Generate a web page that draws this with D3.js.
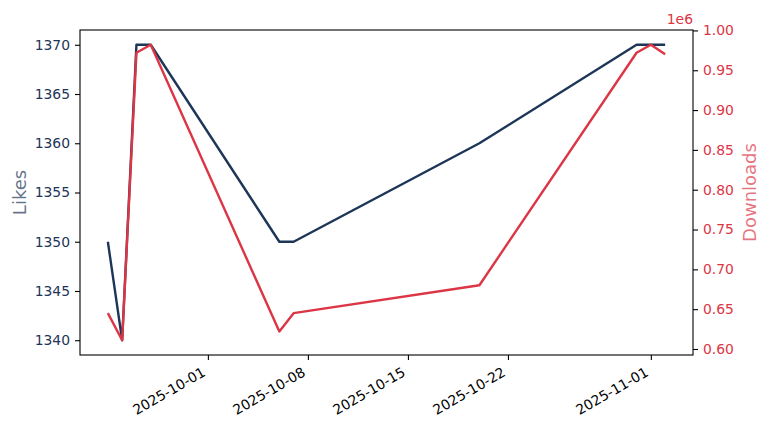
<!DOCTYPE html>
<html>
<head>
<meta charset="utf-8">
<script src="https://cdn.jsdelivr.net/npm/d3@7"></script>
<style>
  body { margin: 0; background: #fff; }
  text { font-family: "DejaVu Sans", sans-serif; }
</style>
</head>
<body>
<svg width="768" height="432"></svg>
<script>
// data
const dates = ["2025-09-24", "2025-09-25", "2025-09-26", "2025-09-27", "2025-10-06",
               "2025-10-07", "2025-10-20", "2025-10-31", "2025-11-01", "2025-11-02"];
const likes = [1350, 1340, 1370, 1370, 1350, 1350, 1360, 1370, 1370, 1370];
const downloads = [645000, 611000, 972000, 982000, 622000, 645000, 680000, 972000, 982000, 970000];
const dateTicks = ["2025-10-01", "2025-10-08", "2025-10-15", "2025-10-22", "2025-11-01"];
const likeTicks = [1340, 1345, 1350, 1355, 1360, 1365, 1370];
const downloadTicks = [600000, 650000, 700000, 750000, 800000, 850000, 900000, 950000, 1000000];

const navy = "#1d3557", red = "#dc3545";
const fs = 13.9;

const svg = d3.select("svg"),
    margin = {top: 30, right: 75, bottom: 77, left: 80},
    width = 768 - margin.left - margin.right,
    height = 432 - margin.top - margin.bottom,
    g = svg.append("g").attr("transform", "translate(" + margin.left + "," + margin.top + ")");

const parse = d3.utcParse("%Y-%m-%d");
const rows = dates.map((d, i) => ({date: parse(d), likes: likes[i], downloads: downloads[i]}));

// matplotlib style 5% padding
function pad(ext) {
    const p = (ext[1] - ext[0]) * 0.05;
    return [ext[0] - p, ext[1] + p];
}
const xe = d3.extent(rows, d => d.date.getTime());
const x = d3.scaleUtc().domain(pad(xe)).range([0, width]);
const yL = d3.scaleLinear().domain(pad(d3.extent(likes))).range([height, 0]);
const yR = d3.scaleLinear().domain(pad(d3.extent(downloads))).range([height, 0]);

// x axis
const xAxis = g.append("g")
    .attr("transform", "translate(0," + height + ")")
    .call(d3.axisBottom(x).tickValues(dateTicks.map(parse)).tickFormat(d3.utcFormat("%Y-%m-%d")).tickSizeOuter(0).tickSize(5));
xAxis.selectAll("text")
    .attr("font-size", fs)
    .attr("fill", "#000")
    .attr("text-anchor", "end")
    .attr("x", 0).attr("y", 0).attr("dy", 0)
    .attr("transform", "translate(-2,20) rotate(-30)");

// left axis
const left = g.append("g")
    .call(d3.axisLeft(yL).tickValues(likeTicks).tickFormat(d3.format("d")).tickSizeOuter(0).tickSize(5).tickPadding(5));
left.selectAll("text").attr("font-size", fs).attr("fill", navy);

// right axis
const right = g.append("g")
    .attr("transform", "translate(" + width + ",0)")
    .call(d3.axisRight(yR).tickValues(downloadTicks).tickFormat(d => (d / 1e6).toFixed(2)).tickSizeOuter(0).tickSize(5).tickPadding(5));
right.selectAll("text").attr("font-size", fs).attr("fill", red);

svg.selectAll(".domain").remove();
svg.selectAll(".tick line").attr("stroke", "#000").attr("stroke-width", 1.1);

// frame
g.append("rect")
    .attr("width", width).attr("height", height)
    .attr("fill", "none").attr("stroke", "#000").attr("stroke-width", 1.1);

// lines
const lineLikes = d3.line().x(d => x(d.date)).y(d => yL(d.likes));
const lineDownloads = d3.line().x(d => x(d.date)).y(d => yR(d.downloads));

g.append("path").datum(rows)
    .attr("d", lineLikes)
    .attr("fill", "none").attr("stroke", navy).attr("stroke-width", 2.4)
    .attr("stroke-linejoin", "round");

g.append("path").datum(rows)
    .attr("d", lineDownloads)
    .attr("fill", "none").attr("stroke", red).attr("stroke-width", 2.4)
    .attr("stroke-linejoin", "round");

// labels
svg.append("text")
    .attr("transform", "translate(26," + (margin.top + height / 2) + ") rotate(-90)")
    .attr("text-anchor", "middle")
    .attr("font-size", 18)
    .attr("fill", navy).attr("fill-opacity", 0.7)
    .text("Likes");

svg.append("text")
    .attr("transform", "translate(756," + (margin.top + height / 2) + ") rotate(-90)")
    .attr("text-anchor", "middle")
    .attr("font-size", 18)
    .attr("fill", red).attr("fill-opacity", 0.7)
    .text("Downloads");

svg.append("text")
    .attr("x", margin.left + width)
    .attr("y", margin.top - 6)
    .attr("text-anchor", "end")
    .attr("font-size", fs)
    .attr("fill", red)
    .text("1e6");
</script>
</body>
</html>
